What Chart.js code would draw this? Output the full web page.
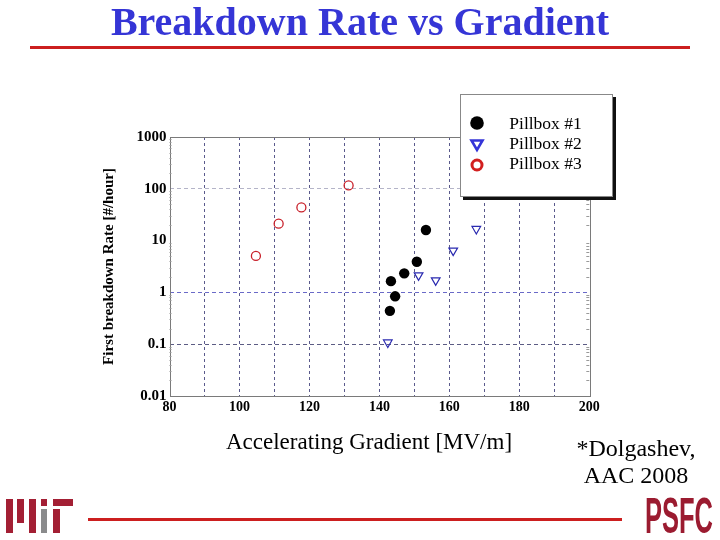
<!DOCTYPE html>
<html><head><meta charset="utf-8">
<script src="https://cdn.jsdelivr.net/npm/chart.js@4.4.1/dist/chart.umd.min.js"></script>
<style>
html,body{margin:0;padding:0;background:#fff;}
#wrap{position:relative;width:720px;height:540px;overflow:hidden;font-family:'Liberation Serif','Times New Roman',serif;}
#c{position:absolute;left:0;top:0;}
.abs{position:absolute;white-space:nowrap;line-height:1;}
.bar{position:absolute;background:#a31f34;}
</style></head><body>
<div id="wrap">
<canvas id="c" width="720" height="540"></canvas>
<div class="abs" style="left:0;width:720px;top:1.5px;text-align:center;font-weight:bold;font-size:40px;color:#3535d6;">Breakdown Rate vs Gradient</div>
<div class="abs" style="left:30px;top:46px;width:660px;height:3px;background:#cc1f1f;"></div>
<div class="abs" style="left:169px;width:400px;top:430px;text-align:center;font-size:23px;color:#000;">Accelerating Gradient [MV/m]</div>
<div class="abs" style="left:536px;width:200px;top:436px;text-align:center;font-size:24px;color:#000;">*Dolgashev,</div>
<div class="abs" style="left:536px;width:200px;top:462.6px;text-align:center;font-size:24px;color:#000;">AAC 2008</div>
<div id="legend" class="abs" style="left:460px;top:94px;width:151px;height:101px;background:#fff;border:1px solid #888;box-shadow:3px 3px 0 #111;"></div>
<!-- MIT logo -->
<div class="bar" style="left:6px;top:499px;width:7px;height:34px;"></div>
<div class="bar" style="left:17px;top:499px;width:7px;height:24px;"></div>
<div class="bar" style="left:29px;top:499px;width:7px;height:34px;"></div>
<div class="bar" style="left:41px;top:499px;width:6px;height:7px;"></div>
<div class="bar" style="left:41px;top:509px;width:6px;height:24px;background:#8a8b8c;"></div>
<div class="bar" style="left:53px;top:499px;width:20px;height:7px;"></div>
<div class="bar" style="left:53px;top:509px;width:7px;height:24px;"></div>
<div class="abs" style="left:88px;top:518px;width:534px;height:3px;background:#cc1f1f;"></div>
<div class="abs" style="left:645px;top:491px;font-family:'Liberation Sans',sans-serif;font-weight:bold;font-size:50px;color:#9b1b30;transform:scaleX(0.51);transform-origin:0 0;">PSFC</div>
</div>
<script>
const xGridValues = [80, 90, 100, 110, 120, 130, 140, 150, 160, 170, 180, 190, 200];
const xTickLabels = ['80', '', '100', '', '120', '', '140', '', '160', '', '180', '', '200'];
const yTickValues = [0.01, 0.1, 1, 10, 100, 1000];
const yTickLabels = ['0.01', '0.1', '1', '10', '100', '1000'];
const seriesNames = ['Pillbox #1', 'Pillbox #2', 'Pillbox #3'];
const pillbox1X = [143.0, 144.5, 143.3, 147.1, 150.7, 153.3];
const pillbox1Y = [0.44, 0.84, 1.65, 2.33, 3.9, 16];
const pillbox2X = [142.4, 151.2, 156.1, 161.1, 167.7];
const pillbox2Y = [0.108, 2.13, 1.71, 6.4, 16.8];
const pillbox3X = [104.7, 111.2, 117.7, 131.2];
const pillbox3Y = [5.05, 21.2, 43.7, 116];

const SERIF = "'Liberation Serif','Times New Roman',serif";
const pts = (xs, ys) => xs.map((x, i) => ({x: x, y: ys[i]}));

const yGridColors = {0.01: 'rgba(0,0,0,0)', 0.1: '#5c5c84', 1: '#6a6ac8', 10: 'rgba(0,0,0,0)', 100: '#b4b4c8', 1000: 'rgba(0,0,0,0)'};

const framePlugin = {
  id: 'frame',
  beforeDatasetsDraw(chart) {
    const {ctx, chartArea: a, scales} = chart;
    ctx.save();
    ctx.strokeStyle = '#7a7a7a';
    ctx.lineWidth = 1;
    ctx.strokeRect(Math.round(a.left) + 0.5, Math.round(a.top) + 0.5, Math.round(a.right - a.left), Math.round(a.bottom - a.top));
    // minor log ticks on the side borders
    ctx.strokeStyle = '#999';
    ctx.beginPath();
    for (let d = 0; d < yTickValues.length - 1; d++) {
      for (let k = 2; k <= 9; k++) {
        const y = Math.round(scales.y.getPixelForValue(yTickValues[d] * k)) + 0.5;
        ctx.moveTo(a.right, y); ctx.lineTo(a.right - 3, y);
        ctx.moveTo(a.left, y); ctx.lineTo(a.left + 2, y);
      }
    }
    ctx.stroke();
    ctx.restore();
  }
};

const chart = new Chart(document.getElementById('c'), {
  type: 'scatter',
  data: {
    datasets: [
      {label: seriesNames[0], data: pts(pillbox1X, pillbox1Y), pointStyle: 'circle', pointRadius: 5.2,
       backgroundColor: '#000', borderColor: '#000', borderWidth: 0},
      {label: seriesNames[1], data: pts(pillbox2X, pillbox2Y), pointStyle: 'triangle', rotation: 180, pointRadius: 5,
       backgroundColor: 'rgba(0,0,0,0)', borderColor: '#2a2ab0', borderWidth: 1.2},
      {label: seriesNames[2], data: pts(pillbox3X, pillbox3Y), pointStyle: 'circle', pointRadius: 4.5,
       backgroundColor: 'rgba(0,0,0,0)', borderColor: '#c8202a', borderWidth: 1.3}
    ]
  },
  options: {
    responsive: false, animation: false, devicePixelRatio: 1,
    layout: {padding: {left: 99.5, right: 130.7, top: 137, bottom: 124}},
    plugins: {legend: {display: false}, tooltip: {enabled: false}},
    scales: {
      x: {
        type: 'linear', min: 80, max: 200,
        afterBuildTicks: s => { s.ticks = xGridValues.map(v => ({value: v})); },
        afterFit: s => { s.height = 20; },
        ticks: {callback: (v, i) => xTickLabels[i], autoSkip: false, maxRotation: 0, padding: 3,
                color: '#000', font: {family: SERIF, size: 14, weight: 'bold'}},
        grid: {drawTicks: false, lineWidth: 1,
               color: c => (c.tick && (c.tick.value === 80 || c.tick.value === 200)) ? 'rgba(0,0,0,0)' : '#5a5a8c'},
        border: {display: false, dash: [3, 3]}
      },
      y: {
        type: 'logarithmic', min: 0.01, max: 1000,
        afterBuildTicks: s => { s.ticks = yTickValues.map(v => ({value: v})); },
        afterFit: s => { s.width = 70; },
        ticks: {callback: (v, i) => yTickLabels[i], autoSkip: false, padding: 3,
                color: '#000', font: {family: SERIF, size: 15, weight: 'bold'}},
        grid: {drawTicks: false, lineWidth: 1,
               color: c => (c.tick && yGridColors[c.tick.value] !== undefined) ? yGridColors[c.tick.value] : 'rgba(0,0,0,0)'},
        border: {display: false, dash: [4, 3]},
        title: {display: true, text: 'First breakdown Rate [#/hour]', color: '#000',
                font: {family: SERIF, size: 15, weight: 'bold'}, padding: {top: 1, bottom: 0}}
      }
    }
  },
  plugins: [framePlugin]
});

// legend built from the dataset definitions
const legend = document.getElementById('legend');
const markerSvg = [
  '<svg width="16" height="16" viewBox="0 0 16 16"><circle cx="8" cy="8" r="6.8" fill="#000"/></svg>',
  '<svg width="16" height="16" viewBox="0 0 16 16"><polygon points="2.5,3.5 13.5,3.5 8,13" fill="none" stroke="#3434d8" stroke-width="2.6" stroke-linejoin="miter"/></svg>',
  '<svg width="16" height="16" viewBox="0 0 16 16"><circle cx="8" cy="8" r="5" fill="none" stroke="#d21f1f" stroke-width="3"/></svg>'
];
const markerTops = [115.3, 137, 157];
const textTops = [114.6, 135, 154.8];
seriesNames.forEach((name, i) => {
  const m = document.createElement('div');
  m.className = 'abs';
  m.style.left = (468.7 - 461) + 'px';
  m.style.top = (markerTops[i] - 95) + 'px';
  m.innerHTML = markerSvg[i];
  legend.appendChild(m);
  const t = document.createElement('div');
  t.className = 'abs';
  t.style.left = (509.3 - 461) + 'px';
  t.style.top = (textTops[i] - 95) + 'px';
  t.style.fontSize = '17.5px';
  t.style.color = '#000';
  t.textContent = name;
  legend.appendChild(t);
});
</script>
</body></html>
